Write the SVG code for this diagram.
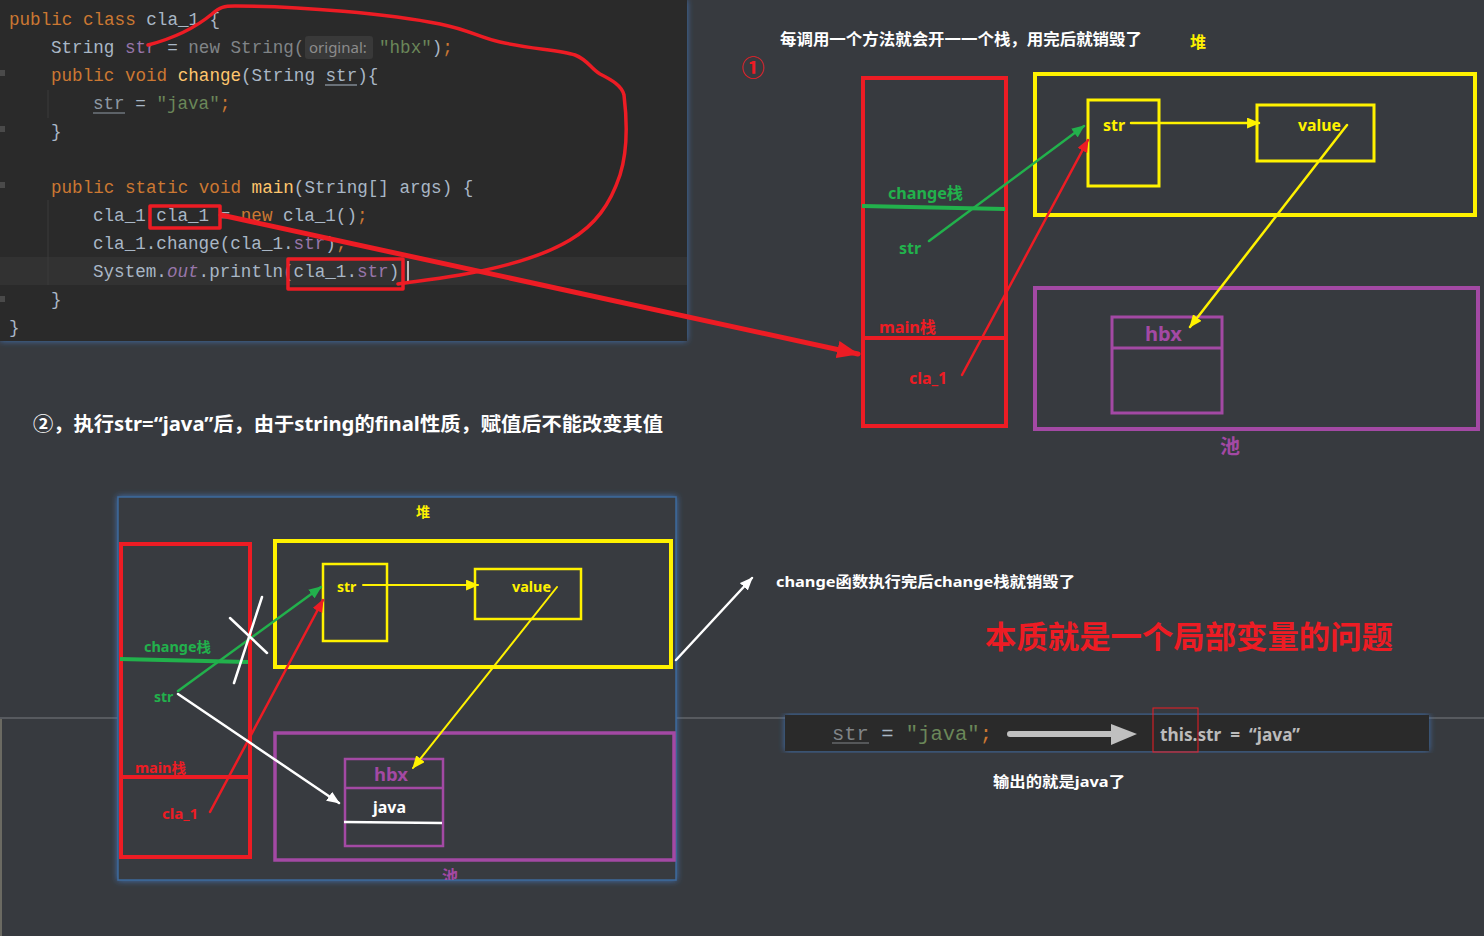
<svg xmlns="http://www.w3.org/2000/svg" width="1484" height="936" viewBox="0 0 1484 936">
<defs>
<style>
.code{font-family:"Liberation Mono",monospace;font-size:17.6px;white-space:pre}
.kw{fill:#cc7832}.df{fill:#a9b7c6}.fd{fill:#9876aa}.st{fill:#6a8759}.fn{fill:#ffc66d}.dim{fill:#808487}
.lb{font-family:"Noto Sans","Noto Sans CJK SC",sans-serif;font-weight:bold}
.red{stroke:#ed1c24}.grn{stroke:#22b14c}.yel{stroke:#fff200}.pur{stroke:#a349a4}.wht{stroke:#ffffff}
.box{fill:none}
</style>
<filter id="glow" x="-5%" y="-5%" width="110%" height="110%">
<feDropShadow dx="0" dy="0" stdDeviation="3" flood-color="#3f78c0" flood-opacity="0.9"/>
</filter>
<marker id="mg" viewBox="0 0 12 10" refX="11" refY="5" markerWidth="13" markerHeight="11" orient="auto" markerUnits="userSpaceOnUse"><path d="M0,0 L12,5 L0,10 z" fill="#22b14c"/></marker>
<marker id="mr" viewBox="0 0 12 10" refX="11" refY="5" markerWidth="13" markerHeight="11" orient="auto" markerUnits="userSpaceOnUse"><path d="M0,0 L12,5 L0,10 z" fill="#ed1c24"/></marker>
<marker id="my" viewBox="0 0 12 10" refX="11" refY="5" markerWidth="13" markerHeight="11" orient="auto" markerUnits="userSpaceOnUse"><path d="M0,0 L12,5 L0,10 z" fill="#fff200"/></marker>
<marker id="mw" viewBox="0 0 12 10" refX="11" refY="5" markerWidth="13" markerHeight="11" orient="auto" markerUnits="userSpaceOnUse"><path d="M0,0 L12,5 L0,10 z" fill="#ffffff"/></marker>
<marker id="mbig" viewBox="0 0 20 16" refX="19" refY="8" markerWidth="22" markerHeight="18" orient="auto" markerUnits="userSpaceOnUse"><path d="M0,0 L20,8 L0,16 z" fill="#ed1c24"/></marker>
<clipPath id="clipB"><rect x="118" y="497" width="558" height="383"/></clipPath>
</defs>

<rect x="0" y="0" width="1484" height="936" fill="#373a3f"/>
<line x1="0" y1="718" x2="1484" y2="718" stroke="#575a5f" stroke-width="2"/>
<rect x="0" y="719" width="2" height="217" fill="#6b6a62"/>

<!-- code panel -->
<g id="code-panel">
<rect x="0" y="0" width="687" height="341" fill="#2b2b2b" filter="url(#glow)"/>
<rect x="0" y="257" width="687" height="28" fill="#323232"/>
<g stroke="#3a3a3a" stroke-width="1">
<line x1="48" y1="90" x2="48" y2="118"/>
<line x1="48" y1="200" x2="48" y2="285"/>
</g>
<g fill="#4a4a4a">
<rect x="0" y="70" width="5" height="6"/><rect x="0" y="126" width="5" height="6"/>
<rect x="0" y="182" width="5" height="6"/><rect x="0" y="296" width="5" height="6"/>
</g>
<text class="code" x="9" y="25"><tspan class="kw">public class </tspan><tspan class="df">cla_1 {</tspan></text>
<text class="code" x="51" y="53"><tspan class="df">String </tspan><tspan class="fd">str</tspan><tspan class="df"> = </tspan><tspan class="dim">new String(</tspan></text>
<rect x="305" y="36" width="68" height="23" rx="3" fill="#393939"/>
<text x="309" y="53" font-family="Noto Sans, sans-serif" font-size="15" fill="#8c8c8c">original:</text>
<text class="code" x="379" y="53"><tspan class="st">"hbx"</tspan><tspan class="df">)</tspan><tspan class="kw">;</tspan></text>
<text class="code" x="51" y="81"><tspan class="kw">public void </tspan><tspan class="fn">change</tspan><tspan class="df">(String str){</tspan></text>
<line x1="325" y1="85" x2="357" y2="85" stroke="#a9b7c6" stroke-width="1"/>
<text class="code" x="93" y="109"><tspan fill="#8f9aa5">str</tspan><tspan class="df"> = </tspan><tspan class="st">"java"</tspan><tspan class="kw">;</tspan></text>
<line x1="93" y1="113" x2="125" y2="113" stroke="#8f9aa5" stroke-width="1"/>
<text class="code df" x="51" y="137">}</text>
<text class="code" x="51" y="193"><tspan class="kw">public static void </tspan><tspan class="fn">main</tspan><tspan class="df">(String[] args) {</tspan></text>
<text class="code" x="93" y="221"><tspan class="df">cla_1 cla_1 = </tspan><tspan class="kw">new </tspan><tspan class="df">cla_1()</tspan><tspan class="kw">;</tspan></text>
<text class="code" x="93" y="249"><tspan class="df">cla_1.change(cla_1.</tspan><tspan class="fd">str</tspan><tspan class="df">)</tspan><tspan class="kw">;</tspan></text>
<text class="code" x="93" y="277"><tspan class="df">System.</tspan><tspan class="fd" font-style="italic">out</tspan><tspan class="df">.println(cla_1.</tspan><tspan class="fd">str</tspan><tspan class="df">)</tspan></text>
<rect x="407" y="261" width="2" height="22" fill="#bbbbbb"/>
<text class="code df" x="51" y="305">}</text>
<text class="code df" x="9" y="333">}</text>
</g>

<!-- red annotations on code -->
<g id="code-annotations" fill="none" stroke="#ed1c24" stroke-width="3.5" stroke-linejoin="round" stroke-linecap="round">
<path d="M148,45 C175,38 195,28 212,14 C220,7 224,6 235,6 C300,6 390,14 440,24 C470,30 480,38 500,42 C530,49 560,50 575,55 C588,60 590,68 600,74 C612,80 622,86 624,95 C627,120 628,150 620,175 C610,205 595,225 570,240 C540,258 500,268 460,275 C430,280 410,282 398,284"/>
<rect x="150" y="206" width="70" height="22"/>
<rect x="288" y="259" width="115" height="30"/>
</g>

<!-- headings -->
<text class="lb" x="780" y="45" font-size="16" fill="#ffffff" textLength="362" lengthAdjust="spacingAndGlyphs">每调用一个方法就会开一一个栈，用完后就销毁了</text>
<text x="753" y="76" font-family="Noto Sans CJK SC, sans-serif" font-weight="bold" font-size="23" fill="#ed1c24" text-anchor="middle">①</text>
<text class="lb" x="33" y="431" font-size="19" fill="#ffffff" textLength="630" lengthAdjust="spacingAndGlyphs">②，执行str=“java”后，由于string的final性质，赋值后不能改变其值</text>

<!-- TOP DIAGRAM -->
<g id="top-stack">
<rect x="863" y="78" width="143" height="348" class="box red" stroke-width="4"/>
<line x1="862" y1="206" x2="1005" y2="209" class="grn" stroke-width="4"/>
<line x1="863" y1="338" x2="1005" y2="338" class="red" stroke-width="4"/>
<text class="lb" x="888" y="199" font-size="16" fill="#22b14c" textLength="75" lengthAdjust="spacingAndGlyphs">change栈</text>
<text class="lb" x="899" y="254" font-size="16" fill="#22b14c">str</text>
<text class="lb" x="879" y="333" font-size="16" fill="#ed1c24" textLength="57" lengthAdjust="spacingAndGlyphs">main栈</text>
<text class="lb" x="909" y="384" font-size="16" fill="#ed1c24" textLength="38" lengthAdjust="spacingAndGlyphs">cla_1</text>
</g>
<g id="top-heap">
<rect x="1035" y="74" width="440" height="141" class="box yel" stroke-width="4"/>
<text class="lb" x="1198" y="48" font-size="16" fill="#fff200" text-anchor="middle">堆</text>
</g>
<g id="top-str">
<rect x="1088" y="100" width="71" height="86" class="box yel" stroke-width="3"/>
<text class="lb" x="1103" y="131" font-size="16" fill="#fff200">str</text>
</g>
<g id="top-value">
<rect x="1257" y="105" width="117" height="56" class="box yel" stroke-width="3"/>
<text class="lb" x="1298" y="131" font-size="16" fill="#fff200" textLength="43" lengthAdjust="spacingAndGlyphs">value</text>
</g>
<g id="top-pool">
<rect x="1035" y="288" width="443" height="141" class="box pur" stroke-width="4"/>
<text class="lb" x="1230" y="454" font-size="20" fill="#a349a4" text-anchor="middle">池</text>
</g>
<g id="top-hbx">
<rect x="1112" y="317" width="110" height="96" class="box pur" stroke-width="3"/>
<line x1="1112" y1="348" x2="1222" y2="348" class="pur" stroke-width="3"/>
<text class="lb" x="1145" y="341" font-size="20" fill="#a349a4" textLength="37" lengthAdjust="spacingAndGlyphs">hbx</text>
</g>

<!-- BOTTOM DIAGRAM -->
<g id="bottom-panel">
<rect x="118" y="497" width="558" height="383" fill="#373a3f" stroke="#3d6a9c" stroke-width="1.5" filter="url(#glow)"/>
<text class="lb" x="423" y="517" font-size="14" fill="#fff200" text-anchor="middle">堆</text>
<text class="lb" x="450" y="882" font-size="16" fill="#a349a4" text-anchor="middle" clip-path="url(#clipB)">池</text>
</g>
<g id="bottom-stack">
<rect x="121" y="544" width="129" height="313" class="box red" stroke-width="4"/>
<line x1="120" y1="659" x2="248" y2="662" class="grn" stroke-width="4"/>
<line x1="121" y1="777" x2="250" y2="777" class="red" stroke-width="4"/>
<text class="lb" x="144" y="652" font-size="14" fill="#22b14c" textLength="67" lengthAdjust="spacingAndGlyphs">change栈</text>
<text class="lb" x="154" y="702" font-size="14" fill="#22b14c">str</text>
<text class="lb" x="135" y="773" font-size="14" fill="#ed1c24" textLength="51" lengthAdjust="spacingAndGlyphs">main栈</text>
<text class="lb" x="162" y="819" font-size="14" fill="#ed1c24" textLength="36" lengthAdjust="spacingAndGlyphs">cla_1</text>
</g>
<g id="bottom-heap">
<rect x="275" y="541" width="396" height="126" class="box yel" stroke-width="4"/>
</g>
<g id="bottom-str">
<rect x="323" y="564" width="64" height="77" class="box yel" stroke-width="2.5"/>
<text class="lb" x="337" y="592" font-size="14" fill="#fff200">str</text>
</g>
<g id="bottom-value">
<rect x="475" y="569" width="106" height="50" class="box yel" stroke-width="2.5"/>
<text class="lb" x="512" y="592" font-size="14" fill="#fff200" textLength="39" lengthAdjust="spacingAndGlyphs">value</text>
</g>
<g id="bottom-pool">
<rect x="275" y="733" width="399" height="127" class="box pur" stroke-width="3.5"/>
</g>
<g id="bottom-hbx">
<rect x="345" y="759" width="98" height="87" class="box pur" stroke-width="2.5"/>
<line x1="345" y1="788" x2="443" y2="788" class="pur" stroke-width="2.5"/>
<text class="lb" x="374" y="781" font-size="18" fill="#a349a4" textLength="34" lengthAdjust="spacingAndGlyphs">hbx</text>
<text class="lb" x="373" y="813" font-size="16" fill="#ffffff" textLength="33" lengthAdjust="spacingAndGlyphs">java</text>
<line x1="344" y1="822" x2="442" y2="823" class="wht" stroke-width="2.5"/>
</g>

<!-- right side texts -->
<text class="lb" x="776" y="587" font-size="15" fill="#ffffff" textLength="299" lengthAdjust="spacingAndGlyphs">change函数执行完后change栈就销毁了</text>
<text class="lb" x="985" y="648" font-size="31" fill="#ed1c24" textLength="408" lengthAdjust="spacingAndGlyphs">本质就是一个局部变量的问题</text>
<g id="snippet">
<rect x="785" y="715" width="644" height="36" fill="#2b2b2b" filter="url(#glow)"/>
<text x="832" y="740" font-family="Liberation Mono, monospace" font-size="20.5" style="white-space:pre"><tspan fill="#808487">str</tspan><tspan fill="#a9b7c6"> = </tspan><tspan fill="#6a8759">"java"</tspan><tspan fill="#cc7832">;</tspan></text>
<line x1="832" y1="743" x2="869" y2="743" stroke="#808487" stroke-width="1.2"/>
<text class="lb" x="1160" y="741" font-size="18" fill="#bbbbbb" textLength="140" lengthAdjust="spacingAndGlyphs" style="white-space:pre">this.str  =  “java”</text>
<rect x="1153" y="708" width="45" height="44" fill="none" stroke="#ed1c24" stroke-width="1"/>
</g>
<text class="lb" x="993" y="787" font-size="15" fill="#ffffff" textLength="132" lengthAdjust="spacingAndGlyphs">输出的就是java了</text>

<!-- connectors -->
<g id="connectors" fill="none" stroke-linecap="round">
<line x1="221" y1="215" x2="858" y2="354" class="red" stroke-width="5" marker-end="url(#mbig)"/>
<line x1="929" y1="241" x2="1084" y2="126" class="grn" stroke-width="2.5" marker-end="url(#mg)"/>
<line x1="962" y1="375" x2="1088" y2="140" class="red" stroke-width="2.5" marker-end="url(#mr)"/>
<line x1="1131" y1="123" x2="1259" y2="123" class="yel" stroke-width="2.5" marker-end="url(#my)"/>
<line x1="1347" y1="125" x2="1190" y2="327" class="yel" stroke-width="2.5" marker-end="url(#my)"/>

<line x1="178" y1="691" x2="321" y2="587" class="grn" stroke-width="2.5" marker-end="url(#mg)"/>
<line x1="210" y1="812" x2="323" y2="600" class="red" stroke-width="2.5" marker-end="url(#mr)"/>
<line x1="178" y1="694" x2="339" y2="803" class="wht" stroke-width="2.5" marker-end="url(#mw)"/>
<line x1="363" y1="585" x2="478" y2="585" class="yel" stroke-width="2" marker-end="url(#my)"/>
<line x1="557" y1="587" x2="413" y2="768" class="yel" stroke-width="2" marker-end="url(#my)"/>
<line x1="262" y1="597" x2="234" y2="683" class="wht" stroke-width="2.5"/>
<line x1="230" y1="618" x2="267" y2="653" class="wht" stroke-width="2.5"/>
<line x1="676" y1="660" x2="752" y2="578" class="wht" stroke-width="2.5" marker-end="url(#mw)"/>

<line x1="1010" y1="734" x2="1115" y2="734" stroke="#c0c0c0" stroke-width="6"/>
<path d="M1111,724 L1137,734 L1111,745 z" fill="#c0c0c0" stroke="none"/>
</g>
</svg>
